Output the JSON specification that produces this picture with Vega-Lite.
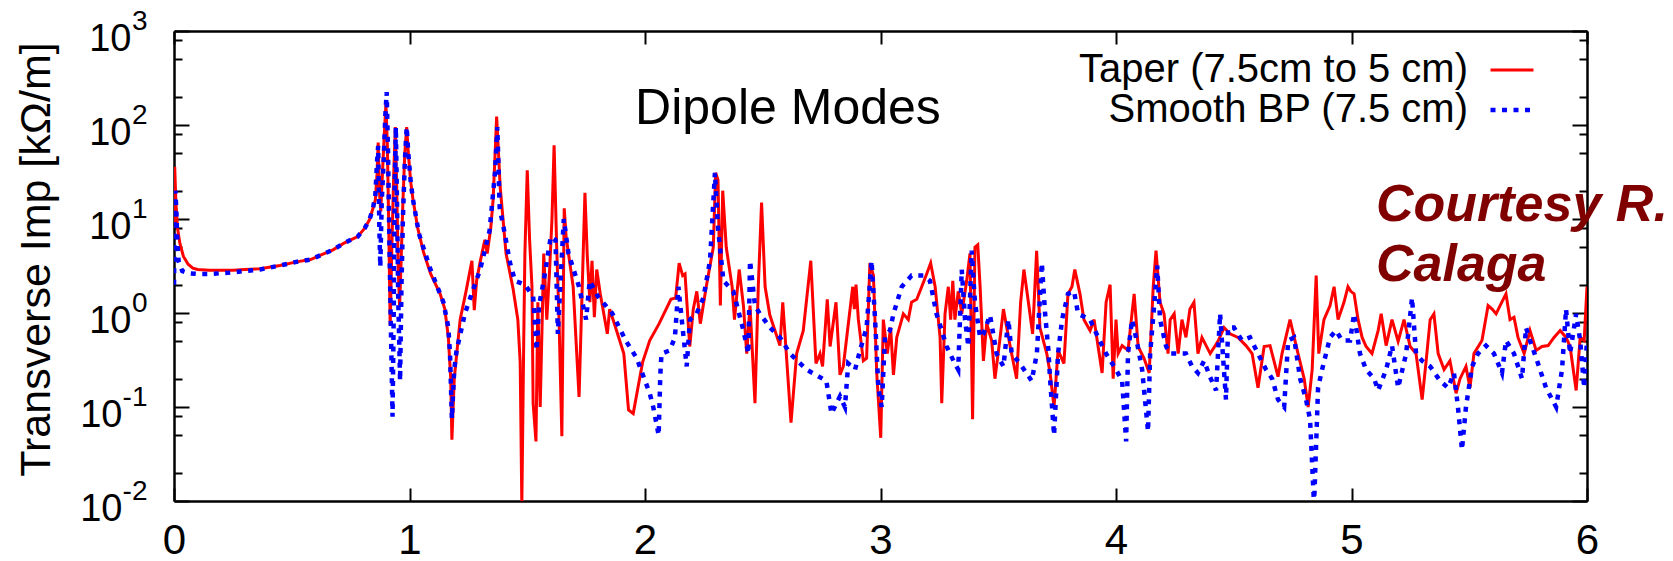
{
  "$schema": "https://vega.github.io/schema/vega-lite/v6.json",
  "width": 1413,
  "height": 470,
  "autosize": {"type": "none"},
  "padding": {"left": 174, "top": 31, "right": 86, "bottom": 60},
  "background": "white",
  "datasets": {
    "taper": [{"f":0,"z":8},{"f":0.003,"z":36},{"f":0.008,"z":15},{"f":0.015,"z":8},{"f":0.025,"z":5.5},{"f":0.04,"z":4},{"f":0.06,"z":3.3},{"f":0.08,"z":3.0},{"f":0.1,"z":2.9},{"f":0.15,"z":2.85},{"f":0.2,"z":2.85},{"f":0.25,"z":2.85},{"f":0.3,"z":2.9},{"f":0.365,"z":2.95},{"f":0.45,"z":3.2},{"f":0.52,"z":3.5},{"f":0.58,"z":3.7},{"f":0.63,"z":4.2},{"f":0.675,"z":4.7},{"f":0.72,"z":5.5},{"f":0.78,"z":6.5},{"f":0.81,"z":8},{"f":0.83,"z":9.8},{"f":0.845,"z":13},{"f":0.855,"z":16},{"f":0.862,"z":30},{"f":0.867,"z":65},{"f":0.872,"z":20},{"f":0.878,"z":12},{"f":0.885,"z":30},{"f":0.893,"z":80},{"f":0.9,"z":170},{"f":0.906,"z":60},{"f":0.912,"z":8},{"f":0.918,"z":0.74},{"f":0.925,"z":5},{"f":0.933,"z":30},{"f":0.94,"z":95},{"f":0.946,"z":20},{"f":0.952,"z":3},{"f":0.958,"z":1.15},{"f":0.965,"z":4},{"f":0.972,"z":15},{"f":0.98,"z":50},{"f":0.988,"z":95},{"f":0.995,"z":50},{"f":1.005,"z":25},{"f":1.015,"z":16},{"f":1.035,"z":8},{"f":1.06,"z":4.4},{"f":1.09,"z":2.6},{"f":1.13,"z":1.6},{"f":1.15,"z":1.1},{"f":1.165,"z":0.55},{"f":1.175,"z":0.2},{"f":1.18,"z":0.045},{"f":1.19,"z":0.2},{"f":1.215,"z":0.85},{"f":1.24,"z":1.7},{"f":1.265,"z":3.6},{"f":1.275,"z":1.07},{"f":1.285,"z":2.2},{"f":1.3,"z":3.5},{"f":1.32,"z":6},{"f":1.33,"z":4.3},{"f":1.345,"z":8},{"f":1.355,"z":16},{"f":1.365,"z":60},{"f":1.37,"z":123},{"f":1.378,"z":50},{"f":1.385,"z":22},{"f":1.41,"z":4.3},{"f":1.44,"z":1.8},{"f":1.46,"z":0.85},{"f":1.47,"z":0.3},{"f":1.477,"z":0.009},{"f":1.485,"z":0.5},{"f":1.49,"z":4.3},{"f":1.5,"z":33},{"f":1.51,"z":6},{"f":1.52,"z":1.9},{"f":1.525,"z":0.11},{"f":1.537,"z":0.043},{"f":1.545,"z":1.3},{"f":1.555,"z":0.1},{"f":1.57,"z":4.3},{"f":1.583,"z":0.85},{"f":1.595,"z":2.9},{"f":1.605,"z":10},{"f":1.614,"z":61},{"f":1.625,"z":5},{"f":1.635,"z":0.85},{"f":1.647,"z":0.049},{"f":1.657,"z":13},{"f":1.665,"z":6.5},{"f":1.695,"z":1.9},{"f":1.72,"z":0.128},{"f":1.745,"z":19},{"f":1.755,"z":4},{"f":1.766,"z":1.3},{"f":1.775,"z":3.6},{"f":1.785,"z":0.9},{"f":1.795,"z":2.9},{"f":1.81,"z":1.6},{"f":1.84,"z":0.6},{"f":1.85,"z":1.1},{"f":1.875,"z":0.7},{"f":1.91,"z":0.37},{"f":1.93,"z":0.093},{"f":1.95,"z":0.085},{"f":1.97,"z":0.16},{"f":1.99,"z":0.3},{"f":2.02,"z":0.51},{"f":2.06,"z":0.77},{"f":2.08,"z":0.98},{"f":2.11,"z":1.4},{"f":2.13,"z":1.45},{"f":2.145,"z":3.4},{"f":2.16,"z":2.5},{"f":2.17,"z":2.6},{"f":2.19,"z":0.44},{"f":2.205,"z":1.1},{"f":2.22,"z":1.7},{"f":2.235,"z":0.77},{"f":2.26,"z":1.9},{"f":2.29,"z":5},{"f":2.3,"z":31},{"f":2.31,"z":26},{"f":2.32,"z":1.2},{"f":2.33,"z":20},{"f":2.345,"z":5},{"f":2.37,"z":1.9},{"f":2.38,"z":0.85},{"f":2.4,"z":2.9},{"f":2.418,"z":1.2},{"f":2.432,"z":0.37},{"f":2.446,"z":1.2},{"f":2.467,"z":0.11},{"f":2.481,"z":1.9},{"f":2.495,"z":15},{"f":2.51,"z":1.9},{"f":2.53,"z":0.95},{"f":2.573,"z":0.45},{"f":2.585,"z":1.3},{"f":2.6,"z":0.37},{"f":2.62,"z":0.068},{"f":2.644,"z":0.37},{"f":2.672,"z":0.65},{"f":2.704,"z":3.6},{"f":2.726,"z":0.29},{"f":2.743,"z":0.37},{"f":2.754,"z":0.27},{"f":2.774,"z":1.4},{"f":2.786,"z":0.44},{"f":2.811,"z":1.3},{"f":2.828,"z":0.22},{"f":2.842,"z":0.27},{"f":2.882,"z":1.9},{"f":2.889,"z":1.1},{"f":2.896,"z":2.0},{"f":2.906,"z":0.85},{"f":2.927,"z":0.31},{"f":2.941,"z":0.33},{"f":2.955,"z":3.4},{"f":2.97,"z":2.5},{"f":2.984,"z":0.23},{"f":3.001,"z":0.047},{"f":3.012,"z":0.85},{"f":3.029,"z":0.37},{"f":3.043,"z":0.7},{"f":3.055,"z":0.22},{"f":3.069,"z":0.55},{"f":3.097,"z":0.98},{"f":3.118,"z":0.85},{"f":3.132,"z":1.3},{"f":3.154,"z":1.4},{"f":3.175,"z":1.9},{"f":3.196,"z":2.6},{"f":3.213,"z":3.4},{"f":3.232,"z":1.9},{"f":3.253,"z":0.55},{"f":3.26,"z":0.11},{"f":3.274,"z":0.98},{"f":3.288,"z":1.9},{"f":3.298,"z":0.85},{"f":3.307,"z":2.2},{"f":3.316,"z":0.85},{"f":3.33,"z":1.7},{"f":3.345,"z":0.98},{"f":3.366,"z":2.2},{"f":3.38,"z":4.3},{"f":3.391,"z":0.074},{"f":3.401,"z":5},{"f":3.413,"z":5.3},{"f":3.423,"z":1.9},{"f":3.437,"z":0.31},{"f":3.451,"z":0.77},{"f":3.472,"z":0.51},{"f":3.486,"z":0.2},{"f":3.508,"z":0.55},{"f":3.522,"z":1.1},{"f":3.55,"z":0.45},{"f":3.578,"z":0.2},{"f":3.595,"z":1.3},{"f":3.609,"z":2.9},{"f":3.628,"z":1.3},{"f":3.646,"z":0.6},{"f":3.663,"z":4.6},{"f":3.677,"z":0.7},{"f":3.706,"z":0.37},{"f":3.72,"z":0.23},{"f":3.737,"z":0.1},{"f":3.754,"z":0.4},{"f":3.779,"z":0.29},{"f":3.796,"z":1.6},{"f":3.813,"z":1.9},{"f":3.825,"z":2.9},{"f":3.847,"z":1.6},{"f":3.864,"z":0.85},{"f":3.89,"z":0.65},{"f":3.907,"z":0.85},{"f":3.924,"z":0.44},{"f":3.941,"z":0.23},{"f":3.958,"z":1.3},{"f":3.975,"z":2.0},{"f":3.988,"z":0.2},{"f":4.0,"z":0.85},{"f":4.009,"z":0.37},{"f":4.026,"z":0.45},{"f":4.051,"z":0.4},{"f":4.077,"z":1.6},{"f":4.094,"z":0.44},{"f":4.119,"z":0.33},{"f":4.141,"z":0.23},{"f":4.158,"z":1.9},{"f":4.17,"z":4.6},{"f":4.187,"z":1.3},{"f":4.204,"z":0.98},{"f":4.221,"z":0.37},{"f":4.23,"z":0.85},{"f":4.247,"z":0.98},{"f":4.264,"z":0.37},{"f":4.28,"z":0.85},{"f":4.297,"z":0.55},{"f":4.314,"z":1.1},{"f":4.331,"z":1.3},{"f":4.348,"z":0.37},{"f":4.365,"z":0.55},{"f":4.4,"z":0.37},{"f":4.433,"z":0.5},{"f":4.459,"z":0.7},{"f":4.484,"z":0.6},{"f":4.518,"z":0.55},{"f":4.552,"z":0.45},{"f":4.578,"z":0.37},{"f":4.603,"z":0.16},{"f":4.629,"z":0.44},{"f":4.654,"z":0.45},{"f":4.688,"z":0.21},{"f":4.705,"z":0.37},{"f":4.739,"z":0.85},{"f":4.773,"z":0.37},{"f":4.799,"z":0.2},{"f":4.816,"z":0.1},{"f":4.833,"z":0.25},{"f":4.85,"z":2.5},{"f":4.861,"z":0.37},{"f":4.883,"z":0.85},{"f":4.909,"z":1.2},{"f":4.926,"z":1.9},{"f":4.943,"z":0.85},{"f":4.968,"z":1.3},{"f":4.985,"z":1.9},{"f":4.997,"z":1.7},{"f":5.011,"z":1.6},{"f":5.028,"z":0.85},{"f":5.045,"z":0.55},{"f":5.062,"z":0.44},{"f":5.087,"z":0.37},{"f":5.113,"z":0.65},{"f":5.126,"z":0.98},{"f":5.147,"z":0.45},{"f":5.172,"z":0.85},{"f":5.198,"z":0.5},{"f":5.223,"z":0.85},{"f":5.249,"z":0.44},{"f":5.274,"z":0.37},{"f":5.3,"z":0.12},{"f":5.317,"z":0.31},{"f":5.334,"z":0.85},{"f":5.35,"z":0.98},{"f":5.368,"z":0.37},{"f":5.393,"z":0.25},{"f":5.418,"z":0.31},{"f":5.444,"z":0.14},{"f":5.461,"z":0.2},{"f":5.486,"z":0.27},{"f":5.503,"z":0.16},{"f":5.52,"z":0.37},{"f":5.554,"z":0.51},{"f":5.58,"z":1.2},{"f":5.597,"z":1.1},{"f":5.614,"z":0.98},{"f":5.631,"z":1.2},{"f":5.656,"z":1.6},{"f":5.673,"z":0.85},{"f":5.69,"z":0.9},{"f":5.707,"z":0.55},{"f":5.733,"z":0.37},{"f":5.758,"z":0.65},{"f":5.784,"z":0.4},{"f":5.809,"z":0.44},{"f":5.835,"z":0.45},{"f":5.86,"z":0.55},{"f":5.886,"z":0.65},{"f":5.911,"z":0.55},{"f":5.928,"z":0.44},{"f":5.954,"z":0.15},{"f":5.971,"z":0.55},{"f":5.988,"z":0.51},{"f":6.0,"z":1.9}],
    "smooth": [{"f":0,"z":2.0},{"f":0.003,"z":8},{"f":0.006,"z":20},{"f":0.01,"z":12},{"f":0.015,"z":5},{"f":0.02,"z":3.5},{"f":0.035,"z":2.8},{"f":0.06,"z":2.65},{"f":0.1,"z":2.6},{"f":0.15,"z":2.6},{"f":0.2,"z":2.65},{"f":0.25,"z":2.7},{"f":0.3,"z":2.8},{"f":0.365,"z":2.9},{"f":0.45,"z":3.2},{"f":0.52,"z":3.5},{"f":0.58,"z":3.7},{"f":0.63,"z":4.2},{"f":0.675,"z":4.7},{"f":0.72,"z":5.5},{"f":0.78,"z":6.5},{"f":0.81,"z":8},{"f":0.83,"z":9.8},{"f":0.845,"z":13},{"f":0.855,"z":18},{"f":0.862,"z":40},{"f":0.867,"z":60},{"f":0.872,"z":8},{"f":0.876,"z":3.1},{"f":0.882,"z":15},{"f":0.89,"z":40},{"f":0.897,"z":120},{"f":0.903,"z":224},{"f":0.909,"z":50},{"f":0.915,"z":5},{"f":0.922,"z":0.5},{"f":0.928,"z":0.079},{"f":0.933,"z":1},{"f":0.937,"z":20},{"f":0.942,"z":95},{"f":0.947,"z":15},{"f":0.952,"z":1.5},{"f":0.96,"z":0.19},{"f":0.966,"z":2},{"f":0.972,"z":10},{"f":0.98,"z":40},{"f":0.988,"z":95},{"f":0.995,"z":50},{"f":1.005,"z":25},{"f":1.015,"z":16},{"f":1.04,"z":7},{"f":1.087,"z":3},{"f":1.144,"z":1.3},{"f":1.165,"z":0.7},{"f":1.172,"z":0.37},{"f":1.18,"z":0.075},{"f":1.19,"z":0.25},{"f":1.2,"z":0.4},{"f":1.236,"z":1.0},{"f":1.264,"z":1.6},{"f":1.3,"z":2.9},{"f":1.34,"z":7.5},{"f":1.363,"z":31},{"f":1.373,"z":95},{"f":1.383,"z":13},{"f":1.4,"z":8},{"f":1.427,"z":3.4},{"f":1.448,"z":2.2},{"f":1.49,"z":2.0},{"f":1.525,"z":1.5},{"f":1.54,"z":0.4},{"f":1.55,"z":1.2},{"f":1.57,"z":2.2},{"f":1.6,"z":6.5},{"f":1.62,"z":6},{"f":1.63,"z":0.6},{"f":1.655,"z":10},{"f":1.675,"z":4.3},{"f":1.72,"z":1.9},{"f":1.75,"z":0.85},{"f":1.765,"z":2.2},{"f":1.8,"z":1.5},{"f":1.86,"z":1.0},{"f":1.92,"z":0.5},{"f":1.965,"z":0.33},{"f":1.98,"z":0.26},{"f":2.02,"z":0.14},{"f":2.035,"z":0.1},{"f":2.058,"z":0.05},{"f":2.065,"z":0.22},{"f":2.07,"z":0.37},{"f":2.105,"z":0.4},{"f":2.127,"z":0.55},{"f":2.142,"z":1.9},{"f":2.156,"z":0.85},{"f":2.177,"z":0.27},{"f":2.191,"z":0.85},{"f":2.219,"z":0.98},{"f":2.248,"z":1.45},{"f":2.276,"z":3.6},{"f":2.297,"z":31},{"f":2.31,"z":8},{"f":2.333,"z":2.2},{"f":2.375,"z":1.7},{"f":2.418,"z":0.65},{"f":2.439,"z":0.37},{"f":2.446,"z":3.6},{"f":2.467,"z":1.2},{"f":2.488,"z":0.98},{"f":2.531,"z":0.7},{"f":2.573,"z":0.55},{"f":2.616,"z":0.37},{"f":2.686,"z":0.25},{"f":2.77,"z":0.19},{"f":2.792,"z":0.085},{"f":2.828,"z":0.13},{"f":2.849,"z":0.1},{"f":2.863,"z":0.29},{"f":2.892,"z":0.25},{"f":2.913,"z":0.4},{"f":2.941,"z":0.7},{"f":2.962,"z":3.6},{"f":2.977,"z":0.85},{"f":2.991,"z":0.16},{"f":3.005,"z":0.1},{"f":3.019,"z":0.55},{"f":3.04,"z":0.65},{"f":3.055,"z":0.98},{"f":3.09,"z":1.9},{"f":3.132,"z":2.5},{"f":3.182,"z":2.5},{"f":3.21,"z":2.2},{"f":3.238,"z":0.98},{"f":3.281,"z":0.44},{"f":3.31,"z":0.31},{"f":3.33,"z":0.25},{"f":3.345,"z":2.9},{"f":3.359,"z":0.85},{"f":3.373,"z":0.44},{"f":3.387,"z":4.6},{"f":3.401,"z":1.3},{"f":3.423,"z":0.55},{"f":3.437,"z":0.6},{"f":3.465,"z":0.95},{"f":3.493,"z":0.37},{"f":3.522,"z":0.27},{"f":3.543,"z":0.85},{"f":3.557,"z":0.37},{"f":3.592,"z":0.29},{"f":3.642,"z":0.19},{"f":3.664,"z":0.37},{"f":3.685,"z":3.4},{"f":3.699,"z":0.98},{"f":3.713,"z":0.4},{"f":3.72,"z":0.2},{"f":3.737,"z":0.05},{"f":3.754,"z":0.37},{"f":3.771,"z":0.85},{"f":3.796,"z":1.6},{"f":3.822,"z":1.7},{"f":3.839,"z":0.98},{"f":3.89,"z":0.85},{"f":3.924,"z":0.55},{"f":3.958,"z":0.37},{"f":4.0,"z":0.25},{"f":4.026,"z":0.19},{"f":4.043,"z":0.043},{"f":4.051,"z":0.37},{"f":4.068,"z":0.85},{"f":4.085,"z":0.55},{"f":4.111,"z":0.25},{"f":4.136,"z":0.055},{"f":4.145,"z":0.37},{"f":4.162,"z":1.2},{"f":4.175,"z":3.2},{"f":4.187,"z":0.85},{"f":4.213,"z":0.44},{"f":4.23,"z":0.37},{"f":4.264,"z":0.37},{"f":4.297,"z":0.37},{"f":4.323,"z":0.27},{"f":4.348,"z":0.23},{"f":4.374,"z":0.31},{"f":4.399,"z":0.21},{"f":4.425,"z":0.15},{"f":4.442,"z":0.98},{"f":4.467,"z":0.12},{"f":4.476,"z":0.7},{"f":4.501,"z":0.7},{"f":4.535,"z":0.51},{"f":4.569,"z":0.55},{"f":4.603,"z":0.37},{"f":4.637,"z":0.25},{"f":4.663,"z":0.2},{"f":4.688,"z":0.12},{"f":4.714,"z":0.1},{"f":4.731,"z":0.51},{"f":4.756,"z":0.55},{"f":4.782,"z":0.2},{"f":4.807,"z":0.12},{"f":4.824,"z":0.074},{"f":4.841,"z":0.009},{"f":4.858,"z":0.16},{"f":4.875,"z":0.25},{"f":4.892,"z":0.37},{"f":4.909,"z":0.55},{"f":4.934,"z":0.65},{"f":4.96,"z":0.51},{"f":4.994,"z":0.51},{"f":5.011,"z":0.98},{"f":5.036,"z":0.37},{"f":5.062,"z":0.25},{"f":5.096,"z":0.2},{"f":5.113,"z":0.15},{"f":5.147,"z":0.25},{"f":5.172,"z":0.45},{"f":5.198,"z":0.16},{"f":5.232,"z":0.37},{"f":5.257,"z":1.45},{"f":5.274,"z":0.37},{"f":5.3,"z":0.31},{"f":5.334,"z":0.27},{"f":5.376,"z":0.19},{"f":5.41,"z":0.16},{"f":5.435,"z":0.23},{"f":5.452,"z":0.1},{"f":5.469,"z":0.035},{"f":5.486,"z":0.1},{"f":5.512,"z":0.27},{"f":5.537,"z":0.37},{"f":5.571,"z":0.45},{"f":5.605,"z":0.37},{"f":5.639,"z":0.23},{"f":5.656,"z":0.51},{"f":5.69,"z":0.37},{"f":5.724,"z":0.2},{"f":5.741,"z":0.7},{"f":5.758,"z":0.51},{"f":5.792,"z":0.29},{"f":5.826,"z":0.16},{"f":5.869,"z":0.1},{"f":5.894,"z":0.25},{"f":5.911,"z":1.1},{"f":5.928,"z":0.37},{"f":5.954,"z":0.98},{"f":5.971,"z":0.51},{"f":5.988,"z":0.16},{"f":6.0,"z":0.51}],
    "title": [{"label": "Dipole Modes", "f": 2.607, "z": 148}],
    "credit": [{"label": "Courtesy R.", "f": 5.104, "z": 14.1}, {"label": "Calaga", "f": 5.104, "z": 3.24}]
  },
  "layer": [
    {
      "data": {"name": "taper"},
      "mark": {"type": "line", "clip": true, "strokeWidth": 3, "color": "#ff0000"},
      "encoding": {
        "x": {"field": "f", "type": "quantitative", "scale": {"domain": [0, 6], "nice": false, "zero": false},
          "axis": {"orient": "bottom", "values": [0,1,2,3,4,5,6], "format": "d", "title": null, "tickSize": -13, "labelPadding": 32, "labelFontSize": 42, "labelFlush": false, "labelOverlap": false}},
        "y": {"field": "z", "type": "quantitative", "scale": {"type": "log", "domain": [0.01, 1000], "nice": false},
          "axis": {"orient": "left", "values": [0.01,0.02,0.05,0.08,0.1,0.2,0.5,0.8,1,2,5,8,10,20,50,80,100,200,500,800,1000],
            "labelExpr": "indexof([0.01,0.1,1,10,100,1000], datum.value) >= 0 ? '10' : ''",
            "tickSize": {"condition": {"test": "indexof([0.01,0.1,1,10,100,1000], datum.value) >= 0", "value": -15}, "value": -8},
            "labelPadding": {"condition": {"test": "datum.value < 0.5", "value": 67}, "value": 58},
            "labelOffset": 8, "labelFontSize": 38, "labelOverlap": false, "labelBound": false, "labelAlign": "right",
            "title": "Transverse Imp [kΩ/m]", "titleFontSize": 43, "titleFontWeight": "normal", "titleX": -138, "titleY": 228, "titleBaseline": "middle", "titleAngle": 270}},
        "color": {"datum": "Taper (7.5cm to 5 cm)",
          "scale": {"domain": ["Taper (7.5cm to 5 cm)", "Smooth BP (7.5 cm)"], "range": ["#ff0000", "#0000ff"]},
          "legend": {"title": null, "orient": "none", "legendX": 1318, "legendY": 19, "symbolType": "stroke", "symbolSize": 1849,
            "labelFontSize": 40, "labelFont": "Liberation Sans", "labelColor": "black", "labelAlign": "right", "labelOffset": -64, "labelLimit": 1000,
            "rowPadding": -2, "padding": 0,
            "encode": {"symbols": {"update": {
              "strokeDash": {"signal": "datum.value == 'Smooth BP (7.5 cm)' ? [5, 6.5] : [1, 0]"},
              "strokeWidth": {"signal": "datum.value == 'Smooth BP (7.5 cm)' ? 4.5 : 3"}}}}}}
      }
    },
    {
      "data": {"name": "smooth"},
      "mark": {"type": "line", "clip": true, "strokeWidth": 4.5, "strokeDash": [5, 6.5], "strokeCap": "butt"},
      "encoding": {
        "x": {"field": "f", "type": "quantitative", "scale": {"domain": [0, 6], "nice": false, "zero": false},
          "axis": {"orient": "top", "values": [0,1,2,3,4,5,6], "labels": false, "title": null, "tickSize": -13}},
        "y": {"field": "z", "type": "quantitative", "scale": {"type": "log", "domain": [0.01, 1000], "nice": false},
          "axis": {"orient": "right", "values": [0.01,0.02,0.05,0.08,0.1,0.2,0.5,0.8,1,2,5,8,10,20,50,80,100,200,500,800,1000], "labels": false, "title": null,
            "tickSize": {"condition": {"test": "indexof([0.01,0.1,1,10,100,1000], datum.value) >= 0", "value": -15}, "value": -8}}},
        "color": {"datum": "Smooth BP (7.5 cm)"}
      }
    },
    {
      "data": {"name": "title"},
      "mark": {"type": "text", "fontSize": 50, "font": "Liberation Sans", "align": "center", "baseline": "middle", "color": "black"},
      "encoding": {
        "x": {"field": "f", "type": "quantitative", "axis": null, "scale": {"domain": [0, 6], "nice": false, "zero": false}},
        "y": {"field": "z", "type": "quantitative", "scale": {"type": "log", "domain": [0.01, 1000], "nice": false},
          "axis": {"orient": "left", "values": [0.01,0.1,1,10,100,1000], "ticks": false, "domain": false, "grid": false, "title": null,
            "labelExpr": "datum.value == 1000 ? '3' : datum.value == 100 ? '2' : datum.value == 10 ? '1' : datum.value == 1 ? '0' : datum.value == 0.1 ? '-1' : '-2'",
            "labelAlign": "right", "labelPadding": 27, "labelOffset": -10, "labelFontSize": 28, "labelOverlap": false, "labelBound": false}},
        "text": {"field": "label"}
      }
    },
    {
      "data": {"name": "credit"},
      "mark": {"type": "text", "fontSize": 52, "font": "Liberation Sans", "fontWeight": "bold", "fontStyle": "italic", "align": "left", "baseline": "middle", "color": "#800000"},
      "encoding": {
        "x": {"field": "f", "type": "quantitative", "axis": null, "scale": {"domain": [0, 6], "nice": false, "zero": false}},
        "y": {"field": "z", "type": "quantitative", "axis": null, "scale": {"type": "log", "domain": [0.01, 1000], "nice": false}},
        "text": {"field": "label"}
      }
    }
  ],
  "resolve": {"axis": {"x": "independent", "y": "independent"}},
  "config": {
    "view": {"stroke": null},
    "font": "Liberation Sans",
    "axis": {"grid": false, "domainColor": "black", "domainWidth": 2.5, "tickColor": "black", "tickWidth": 2, "labelColor": "black", "labelFont": "Liberation Sans", "titleFont": "Liberation Sans", "titleColor": "black"}
  }
}
